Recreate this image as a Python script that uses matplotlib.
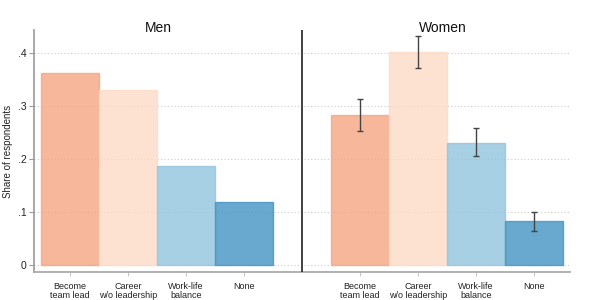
import matplotlib
matplotlib.use("Agg")
import matplotlib.pyplot as plt
import numpy as np

plt.rcParams['font.family'] = ['Liberation Sans', 'DejaVu Sans']

categories = ["Become\nteam lead", "Career\nw/o leadership", "Work-life\nbalance", "None"]
groups = ["Men", "Women"]
men_values = [0.362, 0.330, 0.187, 0.119]
women_values = [0.283, 0.402, 0.230, 0.083]
women_lo = [0.253, 0.372, 0.206, 0.064]
women_hi = [0.313, 0.432, 0.258, 0.100]
yticks = [0, 0.1, 0.2, 0.3, 0.4]
yticklabels = ["0", ".1", ".2", ".3", ".4"]

colors = ["#f4a582", "#fddbc7", "#92c5de", "#4393c3"]

fig = plt.figure(figsize=(6, 3), dpi=100)
ax = fig.add_axes([34/600, 1-272/300, (570-34)/600, (272-30)/300])

men_x = np.arange(1, 5)
women_x = np.arange(6, 10)

for i in range(4):
    ax.bar(men_x[i], men_values[i], width=1.0, color=colors[i], alpha=0.8,
           edgecolor=colors[i], linewidth=1, zorder=2)
    ax.bar(women_x[i], women_values[i], width=1.0, color=colors[i], alpha=0.8,
           edgecolor=colors[i], linewidth=1, zorder=2)

yerr = [np.array(women_values) - np.array(women_lo), np.array(women_hi) - np.array(women_values)]
ax.errorbar(women_x, women_values, yerr=yerr, fmt='none', ecolor='#444444',
            elinewidth=1, capsize=2.2, capthick=1, zorder=3)

ax.set_xlim(0.38, 9.62)
ax.set_ylim(-0.0132, 0.443)

for y in yticks:
    ax.axhline(y, color='#cccccc', linestyle=(0, (1, 2)), linewidth=0.8, zorder=1)

ax.axvline(5, color='#333333', linewidth=1.3, zorder=4)

ax.set_yticks(yticks)
ax.set_yticklabels(yticklabels, fontsize=7.5, color='#222222')
ax.set_xticks(list(men_x) + list(women_x))
ax.set_xticklabels(categories * 2, fontsize=6.5, color='#222222', linespacing=1.0)
ax.tick_params(axis='y', length=3.5, width=0.8, color='#999999', pad=2)
ax.tick_params(axis='x', length=3, width=0.6, color='#bbbbbb', pad=4)
ax.set_ylabel("Share of respondents", fontsize=7, color='#222222', labelpad=3)

for s in ['top', 'right']:
    ax.spines[s].set_visible(False)
ax.spines['left'].set_color('#999999')
ax.spines['left'].set_linewidth(1.2)
ax.spines['bottom'].set_color('#aaaaaa')
ax.spines['bottom'].set_linewidth(1.3)

fig.text(158/600, 1-28/300, groups[0], ha='center', va='center', fontsize=10, color='#111111')
fig.text(443/600, 1-28/300, groups[1], ha='center', va='center', fontsize=10, color='#111111')

fig.savefig("out.png", dpi=100)
